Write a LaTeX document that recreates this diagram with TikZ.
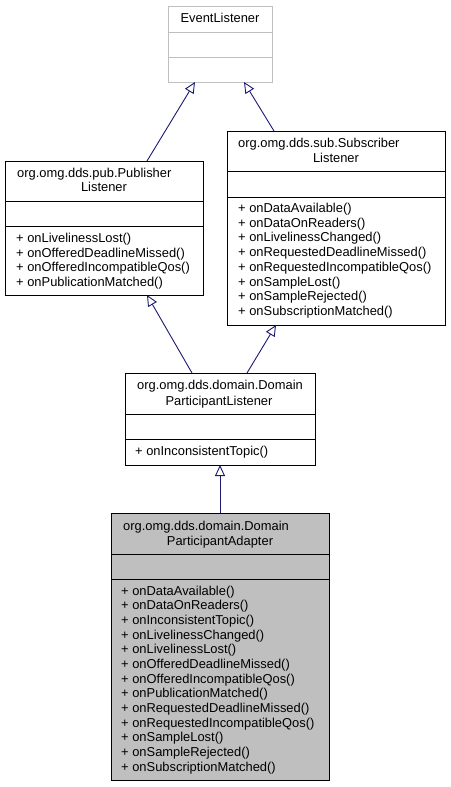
\documentclass[tikz,border=0pt]{standalone}
\usepackage{fontspec}
\setmainfont{Liberation Sans}
\usetikzlibrary{arrows.meta}
\definecolor{edgeblue}{HTML}{191970}
\definecolor{boxgrey}{HTML}{BFBFBF}
\definecolor{lightborder}{HTML}{BFBFBF}
\tikzset{
  classbox/.style={draw=black, line width=0.9pt, inner sep=0pt, anchor=north west},
  divider/.style={draw=black, line width=0.9pt},
  txt/.style={inner sep=0pt, font=\fontsize{12.9}{14.7}\selectfont},
  inherit/.style={draw=edgeblue, line width=0.9pt, -{Triangle[open, length=11pt, width=10pt, fill=white]}}
}
\begin{document}
\begin{tikzpicture}[x=1pt,y=-1pt]
\useasboundingbox (0,0) rectangle (450,787);
% EventListener
\node[classbox, draw=lightborder, minimum width=104pt, minimum height=76pt] (E) at (168,6) {};
\draw[divider, draw=lightborder] (168,32) -- (272,32);
\draw[divider, draw=lightborder] (168,57) -- (272,57);
\node[txt, anchor=base] (Et) at (220,22.5) {EventListener};
% Publisher
\node[classbox, minimum width=198pt, minimum height=134pt] (P) at (5,161) {};
\draw[divider] (5,201) -- (203,201);
\draw[divider] (5,226) -- (203,226);
\node[txt, anchor=base west] (Pt1) at (17,177.5) {org.omg.dds.pub.Publisher};
\node[txt, anchor=base] (Pt2) at (104,191) {Listener};
\foreach \m [count=\i from 0] in {onLivelinessLost(), onOfferedDeadlineMissed(), onOfferedIncompatibleQos(), onPublicationMatched()}
  \node[txt, anchor=base west] (Pm\i) at (16,242.5+14.6*\i) {+ \m};
% Subscriber
\node[classbox, minimum width=218pt, minimum height=194pt] (S) at (227,131) {};
\draw[divider] (227,171) -- (445,171);
\draw[divider] (227,197) -- (445,197);
\node[txt, anchor=base west] (St1) at (238,147) {org.omg.dds.sub.Subscriber};
\node[txt, anchor=base] (St2) at (336,162) {Listener};
\foreach \m [count=\i from 0] in {onDataAvailable(), onDataOnReaders(), onLivelinessChanged(), onRequestedDeadlineMissed(), onRequestedIncompatibleQos(), onSampleLost(), onSampleRejected(), onSubscriptionMatched()}
  \node[txt, anchor=base west] (Sm\i) at (238,212.5+14.7*\i) {+ \m};
% DomainParticipantListener
\node[classbox, minimum width=190pt, minimum height=92pt] (D) at (125,373) {};
\draw[divider] (125,414) -- (315,414);
\draw[divider] (125,439) -- (315,439);
\node[txt, anchor=base] (Dt1) at (220,389.5) {org.omg.dds.domain.Domain};
\node[txt, anchor=base] (Dt2) at (219,405.5) {ParticipantListener};
\node[txt, anchor=base west] (Dm0) at (135,455) {+ onInconsistentTopic()};
% DomainParticipantAdapter
\node[classbox, fill=boxgrey, minimum width=218pt, minimum height=267pt] (A) at (111,513) {};
\draw[divider] (111,554) -- (329,554);
\draw[divider] (111,579) -- (329,579);
\node[txt, anchor=base west] (At1) at (123,530.5) {org.omg.dds.domain.Domain};
\node[txt, anchor=base] (At2) at (220,545.5) {ParticipantAdapter};
\foreach \m [count=\i from 0] in {onDataAvailable(), onDataOnReaders(), onInconsistentTopic(), onLivelinessChanged(), onLivelinessLost(), onOfferedDeadlineMissed(), onOfferedIncompatibleQos(), onPublicationMatched(), onRequestedDeadlineMissed(), onRequestedIncompatibleQos(), onSampleLost(), onSampleRejected(), onSubscriptionMatched()}
  \node[txt, anchor=base west] (Am\i) at (121,595+14.67*\i) {+ \m};
% connector endpoints
\coordinate (EtoP) at (195,82);
\coordinate (EtoS) at (244,82);
\coordinate (PfromE) at (147,161);
\coordinate (SfromE) at (274,131);
\coordinate (PtoD) at (147,295);
\coordinate (StoD) at (276,325);
\coordinate (DfromP) at (192,373);
\coordinate (DfromS) at (247,373);
\coordinate (DtoA) at (220,465);
\coordinate (AfromD) at (220,513);
\draw[inherit] (PfromE) -- (EtoP);
\draw[inherit] (SfromE) -- (EtoS);
\draw[inherit] (DfromP) -- (PtoD);
\draw[inherit] (DfromS) -- (StoD);
\draw[inherit] (AfromD) -- (DtoA);
\end{tikzpicture}
\end{document}
